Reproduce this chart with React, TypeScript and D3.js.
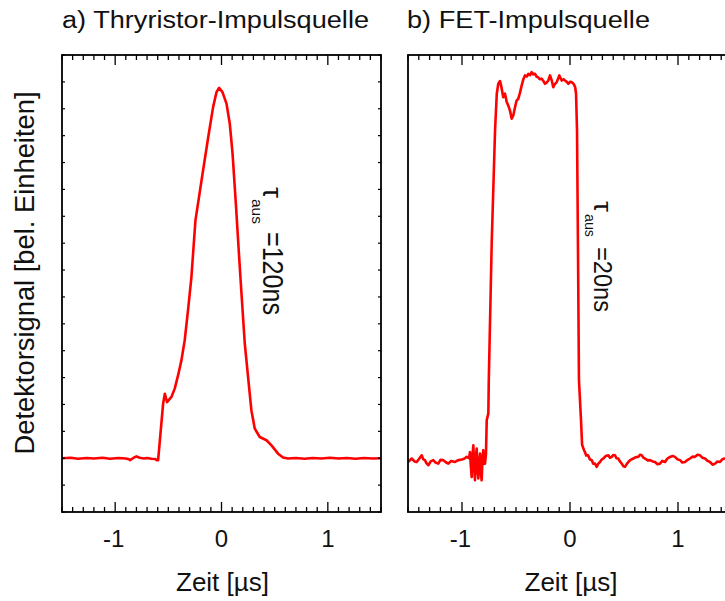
import React from "react";
import * as d3 from "d3";

// ---------- data ----------
const titleA = "a) Thryristor-Impulsquelle";
const titleB = "b) FET-Impulsquelle";
const xLabel = "Zeit [\u00b5s]";
const yLabel = "Detektorsignal [bel. Einheiten]";
const xTickLabels = [-1, 0, 1];

// a) Thyristor source
const timeA = [
  -1.5, -1.42, -1.35, -1.27, -1.2, -1.12, -1.05, -0.97, -0.9, -0.87, -0.86, -0.84, -0.82, -0.8, -0.77,
  -0.73, -0.7, -0.66, -0.62, -0.611, -0.596, -0.549, -0.533, -0.512, -0.471, -0.44, -0.408, -0.377,
  -0.346, -0.315, -0.283, -0.245, -0.188, -0.125, -0.079, -0.047, -0.023, 0.009, 0.047, 0.078, 0.104,
  0.135, 0.166, 0.188, 0.219, 0.25, 0.281, 0.313, 0.36, 0.423, 0.47, 0.532, 0.579, 0.626, 0.7, 0.78,
  0.86, 0.94, 1.02, 1.1, 1.18, 1.26, 1.34, 1.42, 1.5,
];
const signalA = [
  0.0, 0.002, -0.002, 0.001, -0.001, 0.002, -0.002, 0.001, -0.001, -0.004, -0.007, -0.002, 0.003,
  0.007, 0.002, -0.001, 0.001, -0.002, -0.003, -0.007, -0.007, 0.203, 0.24, 0.209, 0.228, 0.259, 0.309,
  0.364, 0.439, 0.55, 0.674, 0.885, 1.033, 1.194, 1.306, 1.362, 1.378, 1.362, 1.319, 1.244, 1.133, 0.947,
  0.748, 0.612, 0.426, 0.302, 0.178, 0.11, 0.079, 0.067, 0.048, 0.017, 0.003, -0.001, 0.001, -0.002,
  0.001, -0.001, 0.002, -0.001, 0.001, -0.002, 0.001, -0.001, 0.0,
];

// b) FET source
const timeB = [
  -1.5, -1.466, -1.44, -1.419, -1.4, -1.373, -1.36, -1.343, -1.33, -1.312, -1.29, -1.266, -1.245, -1.219,
  -1.2, -1.173, -1.15, -1.127, -1.1, -1.065, -1.04, -1.003, -0.98, -0.956, -0.935, -0.926, -0.918, -0.91,
  -0.903, -0.895, -0.888, -0.88, -0.872, -0.864, -0.857, -0.849, -0.841, -0.833, -0.826, -0.818, -0.81,
  -0.803, -0.795, -0.787, -0.778, -0.771, -0.756, -0.752, -0.725, -0.694, -0.678, -0.664, -0.648, -0.64,
  -0.632, -0.618, -0.602, -0.586, -0.57, -0.556, -0.54, -0.525, -0.509, -0.495, -0.479, -0.463, -0.447,
  -0.432, -0.417, -0.4, -0.386, -0.37, -0.355, -0.34, -0.324, -0.31, -0.294, -0.28, -0.262, -0.245,
  -0.231, -0.215, -0.201, -0.185, -0.169, -0.155, -0.14, -0.123, -0.099, -0.077, -0.06, -0.046, -0.03,
  -0.016, 0.0, 0.016, 0.028, 0.037, 0.048, 0.056, 0.065, 0.074, 0.083, 0.102, 0.112, 0.12, 0.13, 0.139,
  0.15, 0.167, 0.185, 0.201, 0.215, 0.231, 0.247, 0.262, 0.278, 0.292, 0.308, 0.33, 0.355, 0.37, 0.386,
  0.4, 0.417, 0.43, 0.447, 0.462, 0.479, 0.495, 0.509, 0.525, 0.54, 0.56, 0.586, 0.61, 0.632, 0.648,
  0.664, 0.68, 0.694, 0.72, 0.741, 0.765, 0.787, 0.81, 0.833, 0.855, 0.88, 0.9, 0.926, 0.95, 0.972,
  0.995, 1.019, 1.04, 1.065, 1.09, 1.111, 1.135, 1.157, 1.18, 1.204, 1.225, 1.25, 1.275, 1.296, 1.32,
  1.343, 1.365, 1.389, 1.41, 1.435, 1.5,
];
const signalB = [
  -0.014, -0.001, -0.012, -0.014, -0.004, 0.011, -0.003, -0.007, -0.018, -0.026, -0.012, -0.007, -0.016,
  -0.02, -0.006, -0.007, -0.015, -0.02, -0.01, -0.014, -0.008, -0.005, -0.002, 0.005, 0.0, 0.023, -0.03,
  -0.07, 0.01, 0.048, -0.02, -0.082, 0.0, 0.036, -0.04, -0.075, -0.01, 0.017, -0.05, -0.082, 0.0, 0.03,
  -0.02, -0.02, 0.017, 0.141, 0.167, 0.29, 0.8, 1.219, 1.356, 1.393, 1.403, 1.39, 1.374, 1.343, 1.356,
  1.325, 1.31, 1.294, 1.263, 1.275, 1.306, 1.33, 1.337, 1.36, 1.387, 1.41, 1.424, 1.42, 1.43, 1.425,
  1.436, 1.428, 1.43, 1.42, 1.417, 1.41, 1.412, 1.402, 1.393, 1.398, 1.405, 1.424, 1.405, 1.38, 1.392,
  1.399, 1.424, 1.405, 1.41, 1.405, 1.4, 1.393, 1.4, 1.399, 1.395, 1.39, 1.38, 1.356, 1.219, 0.773, 0.29,
  0.141, 0.05, 0.041, 0.03, 0.022, 0.01, 0.011, -0.005, -0.007, -0.02, -0.02, -0.032, -0.02, -0.014,
  -0.006, -0.001, 0.008, 0.011, 0.002, 0.005, 0.012, 0.011, 0.0, -0.001, -0.012, -0.02, -0.03, -0.032,
  -0.022, -0.014, -0.006, -0.001, 0.004, 0.005, 0.013, 0.011, 0.002, -0.001, -0.008, -0.007, -0.012,
  -0.014, -0.022, -0.02, -0.01, -0.014, -0.002, 0.005, 0.008, 0.005, -0.004, -0.007, -0.016, -0.014,
  -0.006, -0.001, 0.006, 0.005, 0.013, 0.011, 0.002, -0.001, -0.01, -0.014, -0.024, -0.02, -0.012,
  -0.014, -0.004, -0.001, -0.008,
];

const FONT = "'Liberation Sans', Arial, Helvetica, sans-serif";

const yScale = d3.scaleLinear().domain([-0.2, 1.5]).range([512, 55]);
const xScaleA = d3.scaleLinear().domain([-1.5, 1.5]).range([62, 381]);
const xScaleB = d3.scaleLinear().domain([-1.5, 1.5]).range([408, 732]);

const xTicks = d3.range(-15, 16).map((i) => i / 10);
const yTicks = d3.range(-2, 16).map((i) => i / 10);

function Panel({ id, xs, time, signal, yTicksOn }: any) {
  const [x0, x1] = xs.range();
  const [yb, yt] = yScale.range();
  const pts = time.map((t: number, i: number) => [t, signal[i]] as [number, number]);
  const line = d3
    .line<[number, number]>()
    .x((d) => xs(d[0]))
    .y((d) => yScale(d[1]));
  return (
    <g>
      <defs>
        <clipPath id={id}>
          <rect x={x0} y={yt} width={x1 - x0} height={yb - yt} />
        </clipPath>
      </defs>
      <path
        d={line(pts) || ""}
        fill="none"
        stroke="#ff0000"
        strokeWidth={2.6}
        strokeLinejoin="round"
        clipPath={`url(#${id})`}
      />
      {xTicks.map((t) => {
        const major = Math.abs(t - Math.round(t)) < 1e-9;
        const len = major ? 10 : 5;
        const x = xs(t);
        return (
          <g key={"xt" + t}>
            <line x1={x} x2={x} y1={yb} y2={yb - len} stroke="#000" strokeWidth={1.3} />
            <line x1={x} x2={x} y1={yt} y2={yt + len} stroke="#000" strokeWidth={1.3} />
          </g>
        );
      })}
      {yTicksOn &&
        yTicks.map((t) => {
          const y = yScale(t);
          return (
            <g key={"yt" + t}>
              <line x1={x0} x2={x0 + 3} y1={y} y2={y} stroke="#000" strokeWidth={1.2} />
              <line x1={x1} x2={x1 - 3} y1={y} y2={y} stroke="#000" strokeWidth={1.2} />
            </g>
          );
        })}
      <rect x={x0} y={yt} width={x1 - x0} height={yb - yt} fill="none" stroke="#000" strokeWidth={1.8} />
      {xTickLabels.map((t) => (
        <text
          key={"xl" + t}
          x={xs(t) - (t < 0 ? 1.5 : 0)}
          y={547}
          textAnchor="middle"
          fontFamily={FONT}
          fontSize={24}
          fill="#111"
        >
          {t < 0 ? "-" + Math.abs(t) : String(t)}
        </text>
      ))}
      <text
        x={xs(0) + 1}
        y={591}
        textAnchor="middle"
        fontFamily={FONT}
        fontSize={26}
        textLength={93}
        lengthAdjust="spacingAndGlyphs"
        fill="#111"
      >
        {xLabel}
      </text>
    </g>
  );
}

export default function App() {
  return (
    <svg
      width={725}
      height={601}
      style={{ position: "absolute", left: 0, top: 0, background: "#fff" }}
    >
      <rect x={0} y={0} width={725} height={601} fill="#fff" />
      <text
        x={62}
        y={28}
        fontFamily={FONT}
        fontSize={23.5}
        textLength={307}
        lengthAdjust="spacingAndGlyphs"
        fill="#111"
      >
        {titleA}
      </text>
      <text
        x={407}
        y={28}
        fontFamily={FONT}
        fontSize={23.5}
        textLength={243}
        lengthAdjust="spacingAndGlyphs"
        fill="#111"
      >
        {titleB}
      </text>
      <text
        transform="translate(34,273) rotate(-90)"
        textAnchor="middle"
        fontFamily={FONT}
        fontSize={27}
        textLength={363}
        lengthAdjust="spacingAndGlyphs"
        fill="#111"
      >
        {yLabel}
      </text>

      <Panel id="clipA" xs={xScaleA} time={timeA} signal={signalA} yTicksOn={true} />
      <Panel id="clipB" xs={xScaleB} time={timeB} signal={signalB} yTicksOn={false} />

      {/* annotations */}
      <g transform="translate(263,187) rotate(90)" fontFamily={FONT} fill="#111">
        <text x={0} y={0} fontSize={28} textLength={11} lengthAdjust="spacingAndGlyphs">
          {"\u03c4"}
        </text>
        <text x={12} y={11} fontSize={15} textLength={25} lengthAdjust="spacingAndGlyphs">
          aus
        </text>
        <text x={45} y={0} fontSize={29} textLength={83} lengthAdjust="spacingAndGlyphs">
          =120ns
        </text>
      </g>
      <g transform="translate(594,201) rotate(90)" fontFamily={FONT} fill="#111">
        <text x={0} y={0} fontSize={26} textLength={11} lengthAdjust="spacingAndGlyphs">
          {"\u03c4"}
        </text>
        <text x={13} y={9} fontSize={14} textLength={23} lengthAdjust="spacingAndGlyphs">
          aus
        </text>
        <text x={46} y={0} fontSize={26} textLength={65} lengthAdjust="spacingAndGlyphs">
          =20ns
        </text>
      </g>
    </svg>
  );
}
